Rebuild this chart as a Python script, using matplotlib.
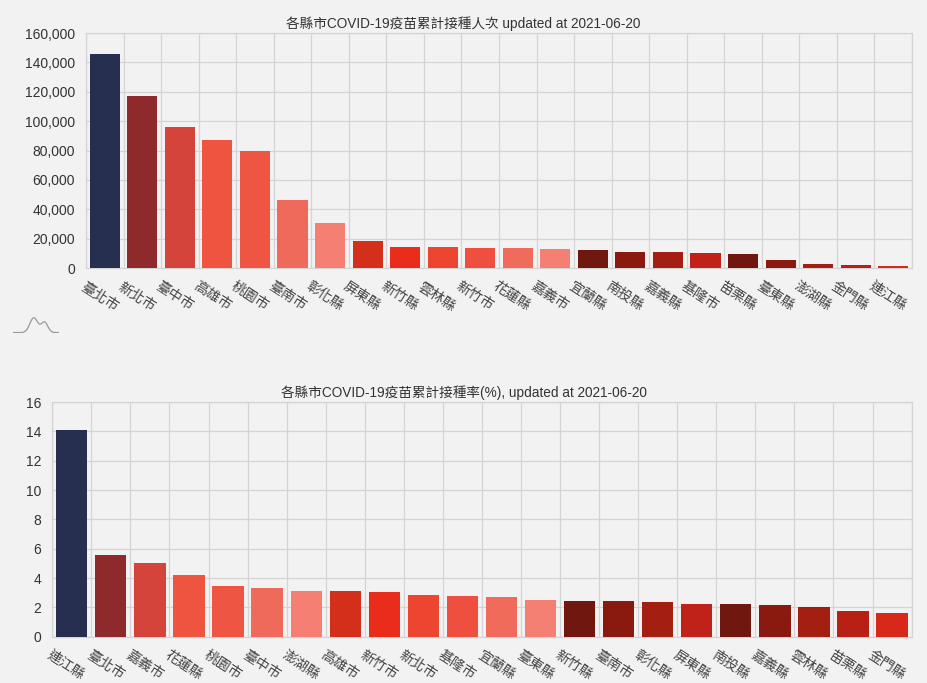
import numpy as np
import matplotlib
matplotlib.use('Agg')
import matplotlib.pyplot as plt
import matplotlib.transforms as mtransforms
from matplotlib.ticker import FuncFormatter

plt.rcParams['font.family'] = ['Liberation Sans', 'Noto Sans CJK TC', 'DejaVu Sans']

# top chart: cumulative doses per county
countsCities = ['臺北市', '新北市', '臺中市', '高雄市', '桃園市', '臺南市', '彰化縣', '屏東縣',
                '新竹縣', '雲林縣', '新竹市', '花蓮縣', '嘉義市', '宜蘭縣', '南投縣', '嘉義縣',
                '基隆市', '苗栗縣', '臺東縣', '澎湖縣', '金門縣', '連江縣']
countsValues = [145700, 117100, 95700, 86900, 79400, 46000, 30400, 18600,
                14000, 14000, 13800, 13600, 13100, 12200, 10700, 10600,
                10000, 9500, 5400, 2900, 2000, 1600]
countsTitle = '各縣市COVID-19疫苗累計接種人次 updated at 2021-06-20'

# bottom chart: vaccination rate (%)
rateCities = ['連江縣', '臺北市', '嘉義市', '花蓮縣', '桃園市', '臺中市', '澎湖縣', '高雄市',
              '新竹市', '新北市', '基隆市', '宜蘭縣', '臺東縣', '新竹縣', '臺南市', '彰化縣',
              '屏東縣', '南投縣', '嘉義縣', '雲林縣', '苗栗縣', '金門縣']
rateValues = [14.07, 5.59, 5.02, 4.23, 3.44, 3.34, 3.11, 3.09,
              3.07, 2.84, 2.80, 2.73, 2.52, 2.43, 2.41, 2.37,
              2.25, 2.21, 2.14, 2.05, 1.77, 1.59]
rateTitle = '各縣市COVID-19疫苗累計接種率(%), updated at 2021-06-20'

# same colour sequence by rank in both charts
barColors = ['#262f4f', '#8f2a2c', '#d5443b', '#ef5440', '#ee5542', '#f06a5c', '#f47f72',
             '#d32f1a', '#e92d1a', '#ec4530', '#ef4f3e', '#f06b5c', '#f48073', '#701810',
             '#8a1a10', '#a51e12', '#c0221a', '#701810', '#8a1a10', '#a51e12', '#b82016',
             '#d8281a']

bgColor = '#f2f2f2'
gridColor = '#d4d4d4'
textColor = '#333333'


def drawChart(fig, rect, cities, values, title, titleY, ymax, ystep, fmt):
    ax = fig.add_axes(rect)
    ax.set_facecolor(bgColor)
    x = np.arange(len(cities))
    ax.bar(x, values, width=0.8, color=barColors, zorder=3)
    ax.set_xlim(-0.5, len(cities) - 0.5)
    ax.set_ylim(0, ymax)
    ax.set_yticks(np.arange(0, ymax + ystep / 2, ystep))
    ax.yaxis.set_major_formatter(FuncFormatter(fmt))
    ax.set_xticks(x)
    ax.set_xticks(np.arange(-0.5, len(cities), 1), minor=True)
    ax.grid(True, which='minor', axis='x', color=gridColor, linewidth=0.9, zorder=0)
    ax.grid(True, which='major', axis='y', color=gridColor, linewidth=0.9, zorder=0)
    ax.tick_params(axis='x', which='both', length=0, pad=8)
    ax.tick_params(axis='y', length=0, pad=8, labelsize=10, labelcolor=textColor)
    offset = mtransforms.ScaledTranslation(-4 / 72, 0, fig.dpi_scale_trans)
    labels = ax.set_xticklabels(cities, rotation=-33, ha='center', fontsize=10, color='#444444')
    for lbl in labels:
        lbl.set_transform(lbl.get_transform() + offset)
    for s in ax.spines.values():
        s.set_color(gridColor)
        s.set_linewidth(0.9)
    # chart title is centred on the whole canvas
    fig.text(0.5, titleY, title, ha='center', va='center', fontsize=9.8, color=textColor)
    return ax


fig = plt.figure(figsize=(9.27, 6.83), dpi=100)
fig.patch.set_facecolor(bgColor)

drawChart(fig, [0.0928, 0.6076, 0.891, 0.344], countsCities, countsValues, countsTitle,
          1 - 24 / 683, 160000, 20000, lambda v, p: '{:,.0f}'.format(v))
drawChart(fig, [0.0564, 0.0678, 0.927, 0.3436], rateCities, rateValues, rateTitle,
          1 - 393 / 683, 16, 2, lambda v, p: '{:.0f}'.format(v))

# little mountain logo
logo = fig.add_axes([0.014, 0.512, 0.05, 0.025])
logo.axis('off')
t = np.linspace(0, 1, 60)
logo.plot(t, np.exp(-((t - 0.45) / 0.12) ** 2) + 0.7 * np.exp(-((t - 0.68) / 0.1) ** 2),
          color='#999999', linewidth=0.9)
logo.set_xlim(0, 1)
logo.set_ylim(-0.05, 1.1)

fig.savefig('out.png', dpi=100, facecolor=bgColor)
